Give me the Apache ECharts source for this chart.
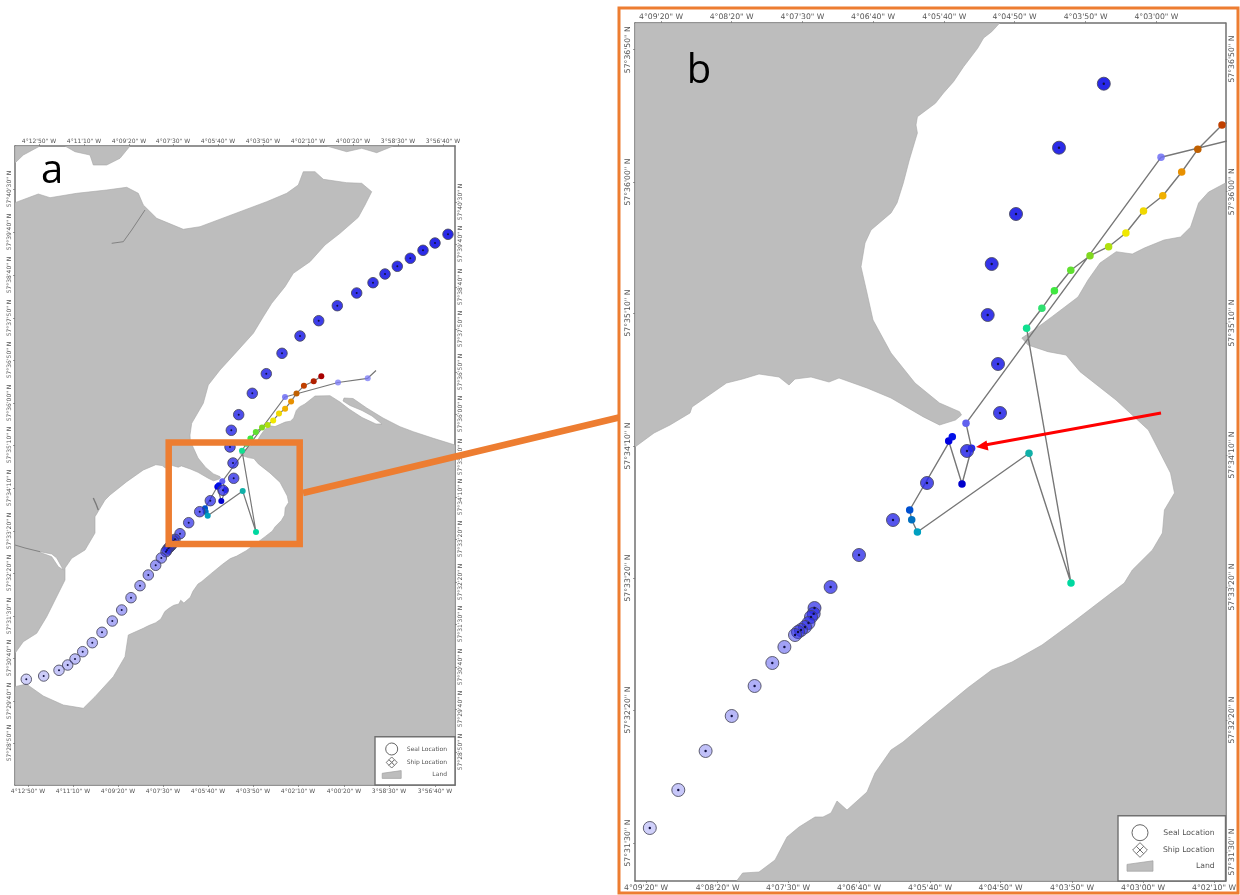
<!DOCTYPE html>
<html><head><meta charset="utf-8">
<style>html,body{margin:0;padding:0;background:#fff}#c{width:1240px;height:895px;filter:blur(.45px)}</style>
<script src="https://cdn.jsdelivr.net/npm/echarts@6/dist/echarts.min.js"></script>
</head><body><div id="c"></div>
<script>
// ---- Tick labels and map-unit positions ----
const lonLabelsA=["4°12'50\" W","4°11'10\" W","4°09'20\" W","4°07'30\" W","4°05'40\" W","4°03'50\" W","4°02'10\" W","4°00'20\" W","3°58'30\" W","3°56'40\" W"];
const lonBottomA=[28,73,118,163,208,253,298,344,389,435];
const lonTopA=[39,84,129,173,218,263,308,353,398,443];
const latLabelsA=["57°41'20\" N","57°40'30\" N","57°39'40\" N","57°38'40\" N","57°37'50\" N","57°36'50\" N","57°36'00\" N","57°35'10\" N","57°34'10\" N","57°33'20\" N","57°32'20\" N","57°31'30\" N","57°30'40\" N","57°29'40\" N","57°28'50\" N"];
const latLeftA=[153,189,232,275,318,360,403,445,488,531,573,616,658,701,743];
const latRightLabelsA=latLabelsA.slice(1);
const latRightA=[202,244,287,329,372,414,457,497,539,582,624,667,709,752];
const lonLabelsB=["4°09'20\" W","4°08'20\" W","4°07'30\" W","4°06'40\" W","4°05'40\" W","4°04'50\" W","4°03'50\" W","4°03'00\" W","4°02'10\" W"];
const lonBottomB=[646,717.7,788,859,930,1000.5,1072,1143,1214];
const lonTopLabelsB=lonLabelsB.slice(0,8);
const lonTopB=[661,731.7,802.4,873,944.3,1014.6,1085.7,1156.4];
const latLabelsB=["57°36'50\" N","57°36'00\" N","57°35'10\" N","57°34'10\" N","57°33'20\" N","57°32'20\" N","57°31'30\" N"];
const latLeftB=[49.7,182,313,446,578,710,843];
const latRightB=[59,191.7,323,455,587,720,852];

// ---- Seal track (NE to SW) ----
const sealA=[[448,234.3],[435,243],[423,250.3],[410.3,258.3],[397.3,266.3],[385,274],[373,282.7],[356.7,293],[337.3,305.7],[318.7,320.7],[300,336],[282,353.3],[266.3,373.7],[252.3,393.3],[238.7,414.7],[231.3,430.3],[230,447],[233,463],[233.7,478.3],[223,490.3],[210.3,500.7],[199.7,511.7],[188.7,522.7],[180,533.7],[175,539.3],[173.5,541],[172.5,543],[171.7,545],[170.5,546],[169.5,547.2],[168.3,548.3],[167,550],[166,551.7],[161.3,558],[155.7,565.3],[148.3,575],[140,585.7],[131,597.7],[121.7,610],[112.3,621],[102,632.3],[92.3,642.7],[82.7,651.7],[75,659],[67.7,665],[59,670.3],[43.7,676],[26.3,679.3]];
const sealB=[[1103.8,83.7],[1059,147.7],[1016,214],[991.7,264],[987.7,315],[998,364],[1000,413],[967,451],[927,483],[893,520],[859,555],[830.6,587],[814.5,608],[813.7,613.7],[811,617],[808.5,623],[805,627],[801,630],[798,632],[795,635],[784.4,647],[772.3,663],[754.6,686],[731.7,716],[705.6,751],[678.3,790],[649.8,828]];

// ---- Ship track (in time order) ----
const shipA=[[376,370.5],[367.7,378.3],[338,382.5],[285,397],[222.3,481.3],[225.7,490],[221.3,501],[217.3,486.7],[218.8,485.2],[205,508.3],[205.7,511.7],[207.7,515.7],[242.7,491],[256,532],[242,450.7],[246.2,443.7],[250.4,438.5],[255.8,432],[262,427.5],[267.6,425],[273.2,420.4],[279,413.6],[285.1,408.7],[291.1,401.4],[296.5,393.4],[303.9,385.8],[313.7,381.3],[321.3,376.3]];
const shipB=[[1428,77],[1400,102],[1329,116],[1161,157.3],[966,423.3],[971.6,448.3],[962,484],[948.7,441],[952.3,436.7],[909.7,510],[911.7,519.7],[917.4,532],[1029,453.3],[1071,583],[1026.6,328.3],[1041.9,308.3],[1054.4,290.7],[1070.8,270.3],[1090,255.7],[1108.6,246.7],[1125.9,233],[1143.5,211],[1162.8,195.7],[1181.7,172],[1197.8,149.3],[1222,125],[1253,111],[1277,95]];

// ---- Land outlines, panel a ----
const landNorthA=[[15,202.7],[38.3,194],[50,197.7],[76.7,193.3],[106.7,190],[126.7,187.3],[138.3,193.3],[143.3,205],[156.7,218.3],[183.3,229.3],[200,226.7],[240,211.7],[266.7,201.7],[286.7,193.3],[298.3,185],[303.3,171.7],[315,171.7],[323.3,179.3],[346.7,182.7],[361.7,183.3],[371.7,191.7],[365,205],[358.3,217.3],[340,233.3],[325,245],[310,261.7],[293.3,273.3],[285,286.7],[271.7,303.3],[263.3,316.7],[253.3,333.3],[236.7,351.7],[220,370],[208.3,385],[203.3,403.3],[191.7,423.3],[190,435],[190.3,441],[198,458],[205.7,467.5],[213.5,473.9],[219.9,476.6],[220.5,477.7],[218.6,479.3],[213.5,480.8],[208.2,478.2],[198,472.3],[190.3,469],[181.4,465.9],[178.2,467.2],[172.4,465.6],[167.3,466.2],[165.4,468.1],[162.2,465.6],[155.8,464.7],[143.3,470],[126.7,481.7],[110,495],[105,500],[98,511.7],[95,516.7],[95,533],[85,550],[71.7,558.3],[65,568],[65,580],[60,590],[46.7,616.7],[36.7,633.3],[23.3,641.7],[15,653.3]];
const landSouthA=[[15,785],[15,686.7],[26.3,684],[43.3,696],[63.3,705],[83.3,708.3],[95,696.7],[113.3,676.7],[125,656.7],[128.3,635],[143.3,628.3],[148.7,625.6],[155.8,622.7],[160.9,619],[164.8,611.6],[168.6,608.5],[173.7,605.3],[178.8,604],[180.7,600.2],[183.9,603],[190.3,597.3],[192.9,591.3],[198,584],[201.8,581.5],[210.8,573.9],[222.5,564.3],[230.3,558.6],[236.7,556.1],[246.2,550.7],[255.8,543.7],[265.4,536.4],[272.4,531],[275,526.9],[281.4,520.5],[284.6,515.1],[285.2,507.8],[288.6,502.4],[287.3,496.1],[280.1,482.4],[269.9,472.9],[258.4,463.9],[253.9,458.6],[248.2,457.6],[241.8,455.4],[239.8,453.2],[243.7,450.7],[249.4,446.5],[257,441.2],[260.9,434.8],[264.8,429.4],[269.9,425.8],[275,426.6],[285.2,422.1],[290.5,421.2],[293.7,418],[296.3,410.4],[299.5,406.9],[304.9,404],[315,396],[330,395.7],[340,402],[349,409],[362,417.5],[376,424],[382,424],[372,416],[362,410.5],[350,405.5],[343,401],[344,398],[353,398.5],[366.7,408],[383,418],[400,426.7],[413.3,431.7],[433.3,438.3],[455,445],[455,785]];
const landCornerA=[[15,146],[40,146],[23.3,155],[15,163]];
const landTop1A=[[65,146],[75,151.7],[90,155],[93.3,165],[106.7,165],[120,158.3],[130,146]];
const landTop2A=[[326.7,146],[346.7,151.7],[361.7,148.3],[376.7,152.7],[393.3,146]];
const inletA=[[40,551.7],[51.7,554],[56.7,558],[63.3,570],[58.3,566.7],[51.7,556.7],[41.7,553]];
const streamNorthA=[[145,210],[131.7,230],[123.3,241.7],[111.7,243.3]];
const streamWestA=[[15,545],[25,548],[40,551.7]];
const streamMidA=[[93.3,498],[96,504],[98.3,510]];

// ---- Land outlines, panel b ----
const landWestB=[[635,23],[999.7,23],[991.7,31.7],[983.6,38],[977.6,48.3],[963.6,66.7],[953.5,81.7],[943.5,93],[935.4,103.3],[917.4,116.7],[916,125],[917.4,133],[909.3,160],[903.3,183],[897,203],[891,213],[871,230],[865,243],[861,266.7],[867,293],[873,320],[891,353],[915,383],[939.5,403],[959.5,411.7],[961.5,415],[955.5,420],[939.5,425],[923,416.7],[891,398],[867,388],[839,378],[829,382],[811,377],[795,379],[789,385],[779,377],[759,374],[742.6,379],[726.5,383],[706.4,397],[692,407],[690,413],[670,425],[654,433],[635,447]];
const landEastB=[[1225.5,183],[1208.6,192],[1198.6,203],[1190.6,227],[1180.5,237],[1164,240],[1144.3,248],[1132.3,254],[1116.2,251.7],[1100,263],[1088,280],[1078,297],[1052,316.7],[1034,330],[1021.8,338],[1028,345],[1048,351.7],[1066,355],[1080,371.7],[1116,400],[1148.4,430],[1170.5,473],[1174.5,493],[1164.4,510],[1162.4,533],[1152.4,550],[1132.3,570],[1124.3,583],[1102,600],[1072,623],[1042,645],[1012,662],[991.7,670],[967.6,688],[955.5,698],[931.4,718],[903,742],[891,750],[875,773],[867,792],[847,810],[837,801],[831,813],[823,817],[815,817],[799,827],[787,837],[775,860],[759,872],[742.6,873],[736.6,881],[1225.5,881]];

// ---- Styles ----
const LAND='#bdbdbd', FRAME='#707070', TXT='#555', ORANGE='#ED7D31';
const shipColours=['#0000','rgba(120,120,245,.75)','rgba(120,120,245,.75)','rgba(110,110,245,.85)','#6060ee','#2828f0','#0000cc','#0000e0','#0010e8','#0050d0','#0070c0','#00a0c0','#10b0a8','#00d8a0','#10e090','#30e070','#40e840','#60e030','#80d820','#b0e010','#f0e800','#f0d800','#f0b000','#e89000','#c06000','#c04000','#b02000','#a80000'];
const sealFill=n=>p=>`rgba(40,40,232,${(1-0.78*Math.pow(p.dataIndex/(n-1),1.25)).toFixed(3)})`;

function axisX(grid,pos,vals,labels,fs,ext,margin){return {type:'value',gridIndex:grid,position:pos,min:ext[0],max:ext[1],splitLine:{show:false},
  axisLine:{show:true,onZero:false,lineStyle:{color:FRAME,width:1.5}},
  axisTick:{show:true,length:2,customValues:vals,lineStyle:{color:FRAME,width:.7}},
  axisLabel:{show:true,customValues:vals,margin:margin,fontSize:fs,color:TXT,fontFamily:'DejaVu Sans',hideOverlap:false,formatter:v=>labels[vals.indexOf(v)]}};}
function axisY(grid,pos,vals,labels,fs,ext,margin){return {type:'value',gridIndex:grid,position:pos,inverse:true,min:ext[0],max:ext[1],splitLine:{show:false},
  axisLine:{show:true,onZero:false,lineStyle:{color:FRAME,width:1.5}},
  axisTick:{show:true,length:2,customValues:vals,lineStyle:{color:FRAME,width:.7}},
  axisLabel:{show:true,rotate:90,customValues:vals,margin:margin,fontSize:fs,color:TXT,fontFamily:'DejaVu Sans',hideOverlap:false,formatter:v=>labels[vals.indexOf(v)]}};}

function poly(grid,ring,fill,z){return {type:'custom',xAxisIndex:grid*2,yAxisIndex:grid*2,coordinateSystem:'cartesian2d',silent:true,z:z||1,clip:true,
  data:[ring[0]],encode:{x:0,y:1},
  renderItem:(p,api)=>({type:'polygon',shape:{points:ring.map(q=>api.coord(q))},style:{fill:fill,stroke:'#a6a6a6',lineWidth:.6}})};}
function stream(grid,pts,w,col){return {type:'line',xAxisIndex:grid*2,yAxisIndex:grid*2,data:pts,symbol:'none',silent:true,z:2,lineStyle:{color:col||'#7a7a7a',width:w}};}
function track(grid,seal,ship,sealSize,dot,shipSize,lw){const ax={xAxisIndex:grid*2,yAxisIndex:grid*2};return [
  {type:'line',...ax,data:ship,symbol:'none',z:3,silent:true,lineStyle:{color:'#777',width:lw}},
  {type:'scatter',...ax,data:ship,symbolSize:(v,p)=>p.dataIndex===0?0:shipSize,z:4,silent:true,itemStyle:{opacity:1,color:p=>shipColours[p.dataIndex]}},
  {type:'scatter',...ax,data:seal,symbolSize:sealSize,z:5,silent:true,itemStyle:{opacity:1,color:sealFill(seal.length),borderColor:'rgba(70,70,90,.85)',borderWidth:1}},
  {type:'scatter',...ax,data:seal,symbolSize:dot,z:6,silent:true,itemStyle:{opacity:1,color:'#101040'}}
];}

const extXA=[15,455],extYA=[146,785],extXB=[635,1225.5],extYB=[23,881];
const option={animation:false,backgroundColor:'#fff',
 grid:[{left:15,top:146,width:440,height:639,show:true,backgroundColor:'#fff',borderWidth:0},
       {left:635,top:23,width:590.5,height:858,show:true,backgroundColor:'#fff',borderWidth:0}],
 xAxis:[axisX(0,'bottom',lonBottomA,lonLabelsA,6,extXA,3),axisX(0,'top',lonTopA,lonLabelsA,6,extXA,1.5),
        axisX(1,'bottom',lonBottomB,lonLabelsB,7.7,extXB,3),axisX(1,'top',lonTopB,lonTopLabelsB,7.7,extXB,2)],
 yAxis:[axisY(0,'left',latLeftA,latLabelsA,6,extYA,2.5),axisY(0,'right',latRightA,latRightLabelsA,6,extYA,2.5),
        axisY(1,'left',latLeftB,latLabelsB,7.7,extYB,3),axisY(1,'right',latRightB,latLabelsB,7.7,extYB,3)],
 series:[
  poly(0,landNorthA,LAND),poly(0,landSouthA,LAND),poly(0,landCornerA,LAND),poly(0,landTop1A,LAND),poly(0,landTop2A,LAND),
  poly(0,inletA,'#fff',2),
  stream(0,streamNorthA,.9),stream(0,streamWestA,.9),stream(0,streamMidA,1.4),
  ...track(0,sealA,shipA,10.5,2,6,1.2),
  poly(1,landWestB,LAND),poly(1,landEastB,LAND),
  ...track(1,sealB,shipB,13,2.4,7.5,1.4)
 ],
 graphic:{elements:[]}
};

// ---- Annotations ----
const G=option.graphic.elements;
function legend(x0,y0,x1,y1,cx,ys,r,sw,tx,fs){
  G.push({type:'rect',z:20,shape:{x:x0,y:y0,width:x1-x0,height:y1-y0},style:{fill:'#fff',stroke:FRAME,lineWidth:1.4}});
  G.push({type:'circle',z:21,shape:{cx:cx,cy:ys[0],r:r},style:{fill:'#fff',stroke:'#666',lineWidth:1}});
  const d=r*.46;
  [[0,-d],[d,0],[0,d],[-d,0]].forEach(o=>{const X=cx+o[0],Y=ys[1]+o[1];
    G.push({type:'polygon',z:21,shape:{points:[[X,Y-d],[X+d,Y],[X,Y+d],[X-d,Y]]},style:{fill:'#fff',stroke:'#666',lineWidth:.9}});});
  G.push({type:'polygon',z:21,shape:{points:[[cx-sw,ys[2]-r*.2],[cx+sw,ys[2]-r*.65],[cx+sw,ys[2]+r*.65],[cx-sw,ys[2]+r*.65]]},style:{fill:LAND,stroke:'#a0a0a0',lineWidth:.7}});
  [['Seal Location',0],['Ship Location',1],['Land',2]].forEach(t=>G.push({type:'text',z:21,style:{x:tx,y:ys[t[1]],text:t[0],textAlign:'right',textVerticalAlign:'middle',fontSize:fs,fontFamily:'DejaVu Sans',fill:'#555'}}));
}
legend(375,736.7,455,785,391.7,[749,762.5,774.5],6,9.5,447,6);
legend(1118,815.7,1225.5,881,1140,[832.7,850,866],8,13,1214.7,7.7);
G.push({type:'line',z:15,shape:{x1:303,y1:493,x2:619,y2:417.5},style:{stroke:ORANGE,lineWidth:6.5}});
G.push({type:'rect',z:15,shape:{x:168.7,y:442.5,width:131,height:101.5},style:{fill:'none',stroke:ORANGE,lineWidth:6.5}});
G.push({type:'rect',z:15,shape:{x:619,y:8,width:619,height:885},style:{fill:'none',stroke:ORANGE,lineWidth:3}});
G.push({type:'line',z:16,shape:{x1:1161,y1:413,x2:985,y2:445},style:{stroke:'#ff0000',lineWidth:3}});
G.push({type:'polygon',z:16,shape:{points:[[976,447],[986.5,440.5],[988.5,450.5]]},style:{fill:'#ff0000'}});
G.push({type:'text',z:17,style:{x:52,y:172,text:'a',textAlign:'center',textVerticalAlign:'middle',fontSize:40,fontFamily:'Open Sans',fill:'#000'}});
G.push({type:'text',z:17,style:{x:699,y:72,text:'b',textAlign:'center',textVerticalAlign:'middle',fontSize:40,fontFamily:'Open Sans',fill:'#000'}});

const chart=echarts.init(document.getElementById('c'),null,{renderer:'canvas',width:1240,height:895});
chart.setOption(option);
</script></body></html>
